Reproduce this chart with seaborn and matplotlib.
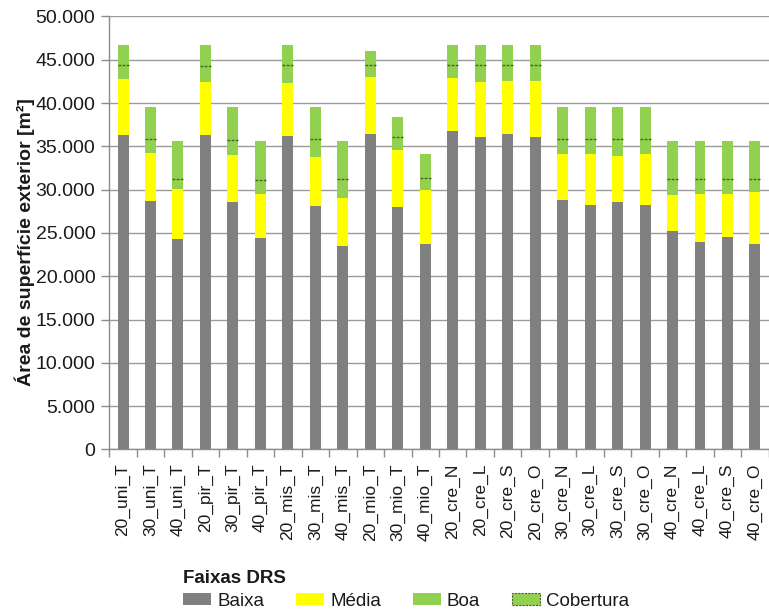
import matplotlib
matplotlib.use("Agg")
import matplotlib.pyplot as plt
from matplotlib.patches import Patch
from matplotlib.ticker import FuncFormatter, MultipleLocator, FixedLocator
import numpy as np
import pandas as pd
import seaborn as sns

# Building variants
categorias = [
    "20_uni_T", "30_uni_T", "40_uni_T",
    "20_pir_T", "30_pir_T", "40_pir_T",
    "20_mis_T", "30_mis_T", "40_mis_T",
    "20_mio_T", "30_mio_T", "40_mio_T",
    "20_cre_N", "20_cre_L", "20_cre_S", "20_cre_O",
    "30_cre_N", "30_cre_L", "30_cre_S", "30_cre_O",
    "40_cre_N", "40_cre_L", "40_cre_S", "40_cre_O",
]

# Exterior surface area per DRS band [m²]
baixa = [36340, 28690, 24300, 36340, 28540, 24380, 36230, 28110, 23540,
         36410, 27990, 23730, 36720, 36110, 36410, 36110, 28770, 28270,
         28570, 28190, 25190, 23920, 24530, 23770]
media = [6460, 5580, 5800, 6120, 5420, 5160, 6110, 5620, 5540,
         6580, 6540, 6270, 6120, 6300, 6160, 6460, 5400, 5800,
         5350, 5880, 4150, 5620, 5010, 5950]
boa = [1540, 1530, 1170, 1800, 1740, 1610, 2000, 2070, 2190,
       1460, 1540, 1400, 1500, 1930, 1770, 1770, 1630, 1730,
       1880, 1730, 1930, 1730, 1730, 1550]
cobertura = [2380, 3690, 4330, 2460, 3790, 4450, 2380, 3690, 4330,
             1550, 2350, 2750, 2380, 2380, 2380, 2380, 3690, 3690,
             3690, 3690, 4330, 4330, 4330, 4330]

series = ["Baixa", "Média", "Boa", "Cobertura"]
cores = {"Baixa": "#808080", "Média": "#FFFF00",
         "Boa": "#92D050", "Cobertura": "#92D050"}
borda_cobertura = "#45622A"

df = pd.DataFrame({"variante": categorias, "Baixa": baixa, "Média": media,
                   "Boa": boa, "Cobertura": cobertura})
# cumulative tops for stacking
df["topo_baixa"] = df["Baixa"]
df["topo_media"] = df["topo_baixa"] + df["Média"]
df["topo_boa"] = df["topo_media"] + df["Boa"]
df["topo_total"] = df["topo_boa"] + df["Cobertura"]

sns.set_theme(style="white")
plt.rcParams["font.family"] = ["Liberation Sans", "DejaVu Sans"]

fig = plt.figure(figsize=(7.69, 6.10), dpi=100)
ax = fig.add_axes([0.1421, 0.2633, 0.8575, 0.7097])

largura = 0.4
for col, serie in [("topo_total", "Cobertura"), ("topo_boa", "Boa"),
                   ("topo_media", "Média"), ("topo_baixa", "Baixa")]:
    sns.barplot(data=df, x="variante", y=col, color=cores[serie],
                saturation=1, width=largura, errorbar=None,
                linewidth=0, ax=ax, zorder=3)

# dashed boundary between Boa and Cobertura
xs = np.arange(len(categorias))
ax.hlines(df["topo_boa"], xs - largura / 2, xs + largura / 2,
          colors=borda_cobertura, linestyles=(0, (2, 1)), linewidth=1.0,
          zorder=4)

ax.set_xlim(-0.5, len(categorias) - 0.5)
ax.set_ylim(0, 50000)
ax.yaxis.set_major_locator(MultipleLocator(5000))
ax.yaxis.set_major_formatter(
    FuncFormatter(lambda v, p: f"{int(v):,}".replace(",", ".")))
ax.grid(axis="y", color="#9A9A9A", linewidth=1.0, zorder=0)
ax.set_axisbelow(True)

for s in ["top", "right"]:
    ax.spines[s].set_visible(False)
for s in ["left", "bottom"]:
    ax.spines[s].set_color("#8C8C8C")
    ax.spines[s].set_linewidth(1.0)

ax.tick_params(axis="y", which="major", left=True, length=6, width=1,
               color="#8C8C8C", labelsize=14, pad=4, labelcolor="#1a1a1a")
ax.tick_params(axis="x", which="major", bottom=True, length=0,
               labelsize=12.5, pad=10, labelrotation=90, labelcolor="#1a1a1a")
ax.xaxis.set_minor_locator(FixedLocator(np.arange(-0.5, len(categorias), 1.0)))
ax.tick_params(axis="x", which="minor", bottom=True, length=6, width=1,
               color="#8C8C8C")

ax.set_xlabel("")
ax.set_ylabel("Área de superfície exterior [m²]", fontsize=14,
              fontweight="bold", color="#1a1a1a")
ax.yaxis.set_label_coords(-0.112, 0.48)

handles = [
    Patch(facecolor=cores["Baixa"], edgecolor="none", label="Baixa"),
    Patch(facecolor=cores["Média"], edgecolor="none", label="Média"),
    Patch(facecolor=cores["Boa"], edgecolor="none", label="Boa"),
    Patch(facecolor=cores["Cobertura"], edgecolor=borda_cobertura,
          linestyle=(0, (2, 1)), linewidth=0.8, label="Cobertura"),
]
leg = fig.legend(handles=handles, loc="upper left",
                 bbox_to_anchor=(183 / 769, 1 - 570 / 610),
                 ncol=4, frameon=False, fontsize=13.5,
                 title="Faixas DRS", alignment="left",
                 title_fontproperties={"weight": "bold", "size": 13.5},
                 handlelength=1.5, handleheight=0.6, handletextpad=0.32,
                 columnspacing=1.7, labelspacing=0.3,
                 borderpad=0, borderaxespad=0)
for t in leg.get_texts():
    t.set_color("#1a1a1a")
leg.get_title().set_color("#1a1a1a")

fig.savefig("out.png", dpi=100, facecolor="white")
